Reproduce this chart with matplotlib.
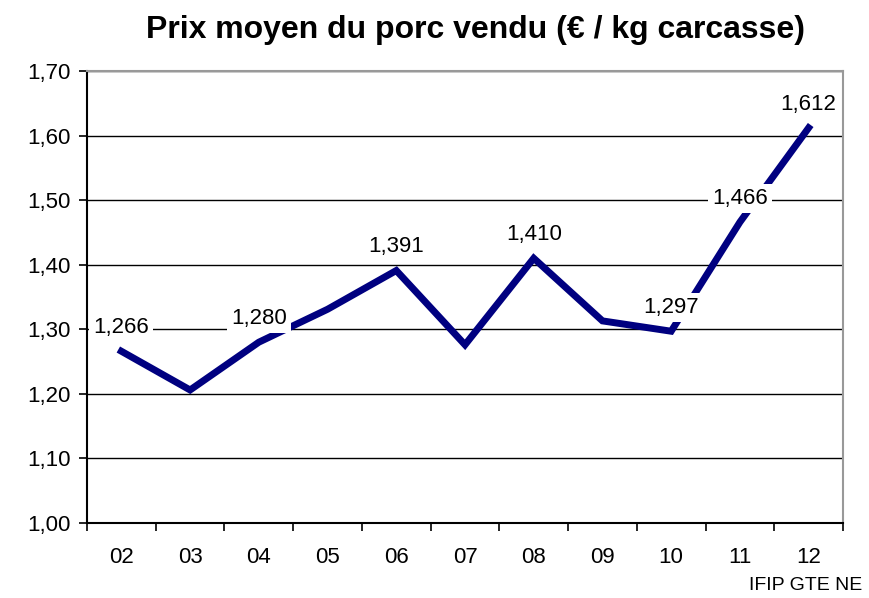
import matplotlib.pyplot as plt
from matplotlib.ticker import FixedLocator, FuncFormatter

# Data
years = ["02", "03", "04", "05", "06", "07", "08", "09", "10", "11", "12"]
prix = [1.266, 1.206, 1.280, 1.331, 1.391, 1.276, 1.410, 1.313, 1.297, 1.466, 1.612]
labelled = ["02", "04", "06", "08", "10", "11", "12"]
y_ticks = [1.00, 1.10, 1.20, 1.30, 1.40, 1.50, 1.60, 1.70]

plt.rcParams['font.family'] = ['Liberation Sans', 'DejaVu Sans']

fig = plt.figure(figsize=(8.7, 5.98), dpi=100)
ax = fig.add_axes([87/870, 75/598, 756/870, 452/598])

x = list(range(len(years)))
ax.plot(x, prix, color='#000080', linewidth=5, solid_joinstyle='miter', zorder=3)

# data labels with white box
for i, yr in enumerate(years):
    if yr in labelled:
        ax.annotate(f"{prix[i]:.3f}".replace('.', ','), (i, prix[i]),
                    xytext=(0, 17), textcoords='offset points',
                    ha='center', va='center', fontsize=16,
                    bbox=dict(facecolor='white', edgecolor='none', pad=3),
                    zorder=4)

ax.set_xlim(-0.5, len(years) - 0.5)
ax.set_ylim(1.0, 1.7)

# y axis
ax.set_yticks(y_ticks)
ax.yaxis.set_major_formatter(FuncFormatter(lambda v, p: f"{v:.2f}".replace('.', ',')))
ax.yaxis.grid(True, color='black', linewidth=1.0)
ax.set_axisbelow(True)

# x axis: ticks between categories, labels centered
ax.xaxis.set_major_locator(FixedLocator([i - 0.5 for i in range(len(years) + 1)]))
ax.xaxis.set_major_formatter(FuncFormatter(lambda v, p: ""))
ax.xaxis.set_minor_locator(FixedLocator(x))
ax.set_xticks(x, years, minor=True)
ax.tick_params(axis='x', which='minor', length=0, pad=17, labelsize=16)
ax.tick_params(axis='x', which='major', length=6, width=1.2, direction='out')
ax.tick_params(axis='y', length=6, width=1.2, direction='out', pad=6, labelsize=16)

for s in ['left', 'bottom']:
    ax.spines[s].set_linewidth(1.5)
    ax.spines[s].set_color('black')
for s in ['top', 'right']:
    ax.spines[s].set_linewidth(1.5)
    ax.spines[s].set_color('#999999')

fig.text(476/870, 1 - 30/598, "Prix moyen du porc vendu (€ / kg carcasse)",
         ha='center', va='center', fontsize=23, fontweight='bold')
fig.text(862/870, 1 - 585/598, "IFIP GTE NE", ha='right', va='center', fontsize=14)

fig.savefig("out.png", dpi=100)
